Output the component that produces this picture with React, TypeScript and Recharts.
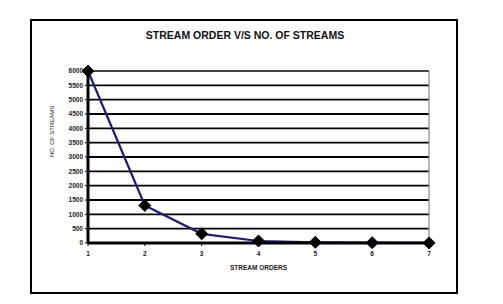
import React from 'react';
import { LineChart, Line, XAxis, YAxis, CartesianGrid, ReferenceLine } from 'recharts';

const streamOrders = [1, 2, 3, 4, 5, 6, 7];
const streamCounts = [6000, 1310, 320, 70, 25, 10, 4];
const yTicks = [0, 500, 1000, 1500, 2000, 2500, 3000, 3500, 4000, 4500, 5000, 5500, 6000];

const data = streamOrders.map((o, i) => ({ order: o, count: streamCounts[i] }));

const Diamond = (props: any) => {
  const { cx, cy } = props;
  if (cx == null || cy == null) return null;
  const r = 6;
  return (
    <polygon
      points={`${cx},${cy - r} ${cx + r},${cy} ${cx},${cy + r} ${cx - r},${cy}`}
      fill="#000"
      stroke="#000"
      strokeWidth={1}
    />
  );
};

export default function App() {
  const font = 'Arial, "Liberation Sans", sans-serif';
  return (
    <div style={{ position: 'absolute', left: 0, top: 0, width: 503, height: 304, background: '#fff', fontFamily: font }}>
      <div style={{ position: 'absolute', left: 30, top: 19, width: 424, height: 271, border: '2px solid #000' }} />
      <div style={{ position: 'absolute', left: 0, top: 29, width: 490, textAlign: 'center', fontWeight: 'bold', fontSize: 10.5, color: '#111' }}>
        STREAM ORDER V/S NO. OF STREAMS
      </div>
      <div style={{ position: 'absolute', left: 0, top: 0 }}>
        <LineChart width={503} height={304} data={data} margin={{ top: 71, right: 74, bottom: 31, left: 40 }}>
          <CartesianGrid horizontal={true} vertical={false} stroke="#000" strokeWidth={1.8} />
          <ReferenceLine y={6000} stroke="#888" strokeWidth={1.2} ifOverflow="extendDomain" />
          <ReferenceLine x={7} stroke="#888" strokeWidth={1.2} />
          <XAxis
            dataKey="order"
            type="number"
            domain={[1, 7]}
            ticks={streamOrders}
            axisLine={{ stroke: '#000', strokeWidth: 3 }}
            tickLine={{ stroke: '#000', strokeWidth: 1 }}
            tickSize={3}
            tickMargin={5}
            tick={{ fontSize: 6.5, fontWeight: 'bold', fill: '#222', fontFamily: font }}
            height={30}
            label={{ value: 'STREAM ORDERS', position: 'insideBottom', offset: 3, fontSize: 6.5, fontWeight: 'bold', fill: '#222', fontFamily: font }}
          />
          <YAxis
            type="number"
            domain={[0, 6000]}
            ticks={yTicks}
            interval={0}
            axisLine={{ stroke: '#000', strokeWidth: 3 }}
            tickLine={{ stroke: '#000', strokeWidth: 1 }}
            tickSize={3}
            tick={{ fontSize: 6.5, fontWeight: 'bold', fill: '#222', fontFamily: font }}
            width={48}
            label={{ value: 'NO. OF STREAMS', angle: -90, position: 'insideLeft', offset: 12, fontSize: 6, fill: '#222', fontFamily: font }}
          />
          <Line
            type="linear"
            dataKey="count"
            stroke="#1b1b7a"
            strokeWidth={2.2}
            dot={<Diamond />}
            activeDot={false}
            isAnimationActive={false}
          />
        </LineChart>
      </div>
    </div>
  );
}
